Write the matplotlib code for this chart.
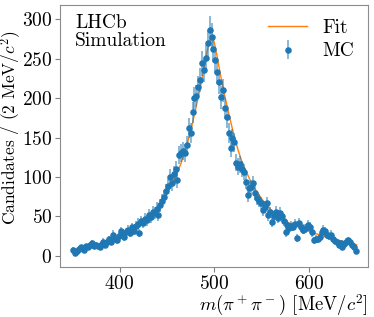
import numpy as np
import matplotlib
matplotlib.use("Agg")
import matplotlib.pyplot as plt

plt.rcParams['font.family'] = 'serif'
plt.rcParams['font.serif'] = ['cmr10']
plt.rcParams['mathtext.fontset'] = 'cm'
plt.rcParams['axes.formatter.use_mathtext'] = True

# bin centres, 2 MeV bins from 350 to 650
mass = np.arange(351, 650, 2)
counts = np.array([
    8, 4, 6, 9, 11, 10, 8, 12, 11, 14,
    16, 12, 14, 13, 11, 15, 18, 14, 17, 21,
    18, 27, 22, 20, 25, 31, 28, 24, 30, 33,
    29, 36, 32, 38, 41, 29, 44, 42, 47, 45,
    52, 49, 56, 54, 60, 52, 64, 70, 75, 82,
    88, 100, 92, 104, 110, 96, 128, 131, 133, 130,
    140, 162, 156, 182, 200, 203, 214, 223, 244, 236,
    251, 270, 287, 278, 262, 248, 233, 220, 201, 210,
    187, 176, 156, 137, 149, 144, 118, 113, 116, 110,
    106, 94, 77, 86, 87, 92, 80, 73, 70, 67,
    58, 62, 67, 52, 55, 43, 50, 56, 48, 54,
    50, 44, 30, 39, 35, 38, 37, 40, 23, 42,
    36, 33, 34, 35, 39, 37, 30, 20, 22, 21,
    24, 30, 33, 31, 27, 25, 27, 22, 19, 17,
    14, 16, 11, 15, 18, 20, 17, 14, 11, 6,
])
errors = np.sqrt(counts)

fit_x = [350, 360, 370, 380, 390, 400, 410, 420, 430, 440, 450, 460, 465, 470,
         475, 480, 485, 490, 493, 496, 498, 500, 503, 506, 510, 515, 520, 525,
         530, 540, 550, 560, 570, 580, 590, 600, 610, 620, 630, 640, 650]
fit_y = [7, 10, 13, 16, 20, 26, 32, 39, 48, 60, 78, 103, 118, 136,
         158, 185, 213, 244, 263, 276, 277, 270, 252, 232, 208, 181, 156, 134,
         116, 90, 72, 58, 48, 41, 36, 31, 27, 23, 20, 17, 14]

fig = plt.figure(figsize=(3.74, 3.17), dpi=100)
ax = fig.add_axes([0.16, 0.158, 0.824, 0.826])

ax.plot(fit_x, fit_y, color='C1', lw=1.0, label='Fit')
eb = ax.errorbar(mass, counts, yerr=errors, fmt='o', color='C0', markersize=3.7,
                 elinewidth=1.1, capsize=0, label='MC')
eb[2][0].set_alpha(0.65)

ax.set_xlim(337, 662)
ax.set_ylim(-14, 318)
ax.set_xticks([400, 500, 600])
ax.set_yticks([0, 50, 100, 150, 200, 250, 300])
ax.tick_params(labelsize=14, color='0.5', pad=2)
for s in ax.spines.values():
    s.set_color('0.55')

ax.set_xlabel(r'$m(\pi^+\pi^-)$ [MeV/$c^2$]', fontsize=13.5, loc='right', labelpad=0)
ax.set_ylabel(r'Candidates / (2 MeV/$c^2$)', fontsize=12.5)
ax.yaxis.set_label_coords(-0.118, 0.53)
ax.text(0.05, 0.965, 'LHCb\nSimulation', transform=ax.transAxes,
        fontsize=14, va='top', ha='left', linespacing=1.0)

handles, labels = ax.get_legend_handles_labels()
ax.legend(handles, labels, loc='upper right', frameon=False, fontsize=14,
          borderaxespad=0.3, labelspacing=0.3)

fig.savefig('out.png', dpi=100)
